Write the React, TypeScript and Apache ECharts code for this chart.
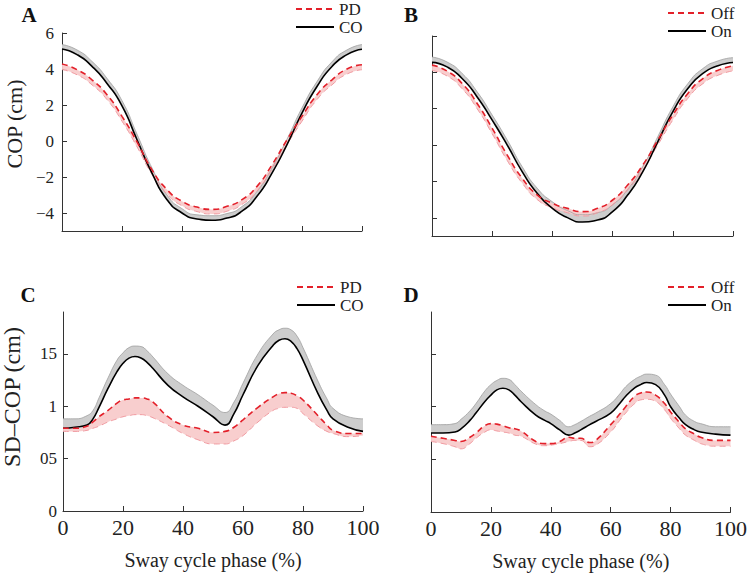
import React, { useEffect, useRef } from "react";
import * as echarts from "echarts";

// ---------- data ----------
const PHASE_AB = [0, 5, 10, 15, 20, 25, 30, 35, 40, 45, 50, 55, 60, 65, 70, 75, 80, 85, 90, 95, 100];

const A_CO_MEAN = [5.11, 4.8, 4.15, 3.2, 1.95, 0.07, -1.78, -3.26, -4.0, -4.33, -4.4, -4.28, -3.9, -3.07, -1.78, -0.2, 1.55, 3.03, 4.14, 4.8, 5.1];
const A_CO_UPPER = [5.36, 5.06, 4.42, 3.48, 2.24, 0.38, -1.5, -3.0, -3.76, -4.1, -4.15, -4.03, -3.64, -2.8, -1.5, 0.1, 1.84, 3.3, 4.4, 5.06, 5.36];
const A_PD_MEAN = [4.28, 3.96, 3.4, 2.57, 1.37, -0.05, -1.6, -2.7, -3.35, -3.67, -3.8, -3.63, -3.26, -2.52, -1.32, 0.07, 1.37, 2.57, 3.4, 4.0, 4.24];
const A_PD_LOWER = [3.97, 3.68, 3.12, 2.3, 1.1, -0.32, -1.85, -2.95, -3.6, -3.92, -4.05, -3.9, -3.52, -2.78, -1.58, -0.2, 1.1, 2.3, 3.12, 3.72, 3.96];

const B_ON_MEAN = [4.55, 4.3, 3.66, 2.65, 1.37, 0.0, -1.47, -2.66, -3.48, -3.99, -4.23, -4.12, -3.66, -2.75, -1.47, 0.18, 1.83, 3.11, 3.94, 4.36, 4.54];
const B_ON_UPPER = [4.84, 4.57, 3.94, 2.93, 1.65, 0.28, -1.2, -2.38, -3.12, -3.6, -3.83, -3.72, -3.28, -2.44, -1.2, 0.46, 2.1, 3.38, 4.21, 4.63, 4.81];
const B_OFF_MEAN = [4.4, 4.07, 3.39, 2.29, 0.92, -0.55, -1.83, -2.75, -3.2, -3.48, -3.66, -3.48, -3.02, -2.2, -1.1, 0.27, 1.65, 2.84, 3.66, 4.12, 4.36];
const B_OFF_LOWER = [4.1, 3.8, 3.1, 2.0, 0.62, -0.85, -2.1, -3.0, -3.45, -3.72, -3.9, -3.72, -3.28, -2.47, -1.38, 0.0, 1.38, 2.57, 3.38, 3.84, 4.08];

const PHASE_C = [0, 4, 8, 10, 12, 15, 18, 20, 22, 24, 26, 28, 30, 35, 40, 45, 50, 54, 57, 60, 65, 70, 72, 74, 76, 78, 80, 85, 88, 90, 95, 100];
const C_CO_MEAN = [0.79, 0.8, 0.82, 0.88, 0.99, 1.17, 1.33, 1.41, 1.46, 1.475, 1.46, 1.42, 1.36, 1.2, 1.09, 1.0, 0.9, 0.82, 0.93, 1.11, 1.39, 1.58, 1.63, 1.645, 1.62, 1.55, 1.44, 1.12, 0.96, 0.88, 0.8, 0.76];
const C_CO_UPPER = [0.88, 0.88, 0.91, 0.96, 1.08, 1.27, 1.44, 1.51, 1.56, 1.575, 1.57, 1.53, 1.47, 1.31, 1.2, 1.11, 1.01, 0.94, 1.04, 1.22, 1.5, 1.69, 1.73, 1.745, 1.73, 1.67, 1.56, 1.24, 1.07, 0.98, 0.9, 0.88];
const C_PD_MEAN = [0.79, 0.79, 0.81, 0.85, 0.9, 0.96, 1.03, 1.06, 1.07, 1.08, 1.08, 1.07, 1.04, 0.9, 0.82, 0.79, 0.75, 0.76, 0.8, 0.87, 0.99, 1.09, 1.12, 1.13, 1.125, 1.1, 1.06, 0.91, 0.82, 0.77, 0.74, 0.74];
const C_PD_LOWER = [0.76, 0.76, 0.77, 0.79, 0.81, 0.85, 0.88, 0.9, 0.91, 0.92, 0.92, 0.91, 0.89, 0.82, 0.74, 0.68, 0.64, 0.64, 0.67, 0.72, 0.85, 0.96, 0.98, 0.99, 0.99, 0.98, 0.93, 0.81, 0.76, 0.74, 0.71, 0.72];

const PHASE_D = [0, 4, 8, 10, 13, 15, 18, 20, 22, 24, 26, 28, 30, 35, 38, 40, 43, 46, 48, 50, 53, 55, 60, 63, 65, 68, 70, 72, 75, 78, 80, 83, 85, 88, 90, 95, 100];
const D_ON_MEAN = [0.75, 0.75, 0.76, 0.79, 0.87, 0.94, 1.05, 1.11, 1.16, 1.175, 1.16, 1.11, 1.05, 0.92, 0.87, 0.84, 0.78, 0.73, 0.75, 0.78, 0.83, 0.86, 0.94, 1.03, 1.1, 1.18, 1.21, 1.23, 1.21, 1.11, 1.0, 0.89, 0.83, 0.78, 0.76, 0.74, 0.73];
const D_ON_UPPER = [0.83, 0.83, 0.84, 0.88, 0.96, 1.03, 1.15, 1.21, 1.25, 1.27, 1.26, 1.21, 1.15, 1.02, 0.96, 0.93, 0.87, 0.81, 0.83, 0.86, 0.91, 0.94, 1.03, 1.12, 1.19, 1.26, 1.29, 1.31, 1.3, 1.21, 1.12, 1.0, 0.92, 0.86, 0.84, 0.81, 0.81];
const D_OFF_MEAN = [0.72, 0.7, 0.68, 0.67, 0.71, 0.75, 0.82, 0.84, 0.835, 0.82, 0.8, 0.79, 0.77, 0.67, 0.65, 0.65, 0.67, 0.71, 0.7, 0.7, 0.66, 0.68, 0.83, 0.93, 1.0, 1.1, 1.13, 1.14, 1.11, 1.03, 0.95, 0.85, 0.79, 0.74, 0.71, 0.68, 0.68];
const D_OFF_LOWER = [0.67, 0.65, 0.62, 0.6, 0.65, 0.7, 0.76, 0.78, 0.77, 0.76, 0.75, 0.73, 0.72, 0.645, 0.63, 0.635, 0.65, 0.67, 0.68, 0.68, 0.62, 0.635, 0.76, 0.87, 0.94, 1.03, 1.065, 1.07, 1.05, 0.97, 0.89, 0.79, 0.73, 0.68, 0.65, 0.625, 0.625];

// phase axis: one category per percent, labelled every 20 %
const PHASE_CATEGORIES = Array.from({ length: 101 }, (_, i) => String(i));
const PHASE_LABEL_STEP = 20;
const COP_TICKS = [-4, -2, 0, 2, 4, 6];
const SD_TICKS = [0, 0.5, 1, 1.5];
const SD_TICK_LABELS = ["0", "05", "1", "15"];

// ---------- style ----------
const FONT = "'Liberation Serif', 'Times New Roman', serif";
const INK = "#222";
const AXIS = "#333";
const RED = "#e3202a";
const GRAY_FILL = "#cdcdcd";
const GRAY_EDGE = "#a0a0a0";
const PINK_FILL = "#f8cbcb";
const PINK_EDGE = "#f09aa0";

const pairs = (x: number[], y: number[]) => x.map((v, i) => [v, y[i]]);

function panelSeries(
  g: number,
  x: number[],
  smooth: number,
  blackName: string,
  blackMean: number[],
  blackUpper: number[],
  redName: string,
  redMean: number[],
  redLower: number[]
) {
  const common = { xAxisIndex: g, yAxisIndex: g, smooth, symbol: "none", silent: true };
  const hidden = { ...common, lineStyle: { opacity: 0, width: 0 } };
  return [
    { ...hidden, type: "line", name: "_gb" + g, stack: "g" + g, stackStrategy: "all", data: pairs(x, blackMean), z: 1 },
    {
      ...hidden, type: "line", name: "_gt" + g, stack: "g" + g, stackStrategy: "all",
      data: pairs(x, blackUpper.map((v, i) => v - blackMean[i])),
      areaStyle: { color: GRAY_FILL, opacity: 1 }, z: 1,
    },
    { ...hidden, type: "line", name: "_rb" + g, stack: "r" + g, stackStrategy: "all", data: pairs(x, redLower), z: 2 },
    {
      ...hidden, type: "line", name: "_rt" + g, stack: "r" + g, stackStrategy: "all",
      data: pairs(x, redMean.map((v, i) => v - redLower[i])),
      areaStyle: { color: PINK_FILL, opacity: 0.95 }, z: 2,
    },
    { ...common, type: "line", name: "_ge" + g, data: pairs(x, blackUpper), lineStyle: { color: GRAY_EDGE, width: 0.8 }, z: 3 },
    { ...common, type: "line", name: "_re" + g, data: pairs(x, redLower), lineStyle: { color: PINK_EDGE, width: 1, type: [6, 4] }, z: 3 },
    { ...common, type: "line", name: blackName, data: pairs(x, blackMean), lineStyle: { color: "#000", width: 1.6 }, itemStyle: { color: "#000" }, z: 4 },
    { ...common, type: "line", name: redName, data: pairs(x, redMean), lineStyle: { color: RED, width: 1.6, type: [6, 4] }, itemStyle: { color: RED }, z: 5 },
  ];
}

function xAxis(g: number, showLabels: boolean) {
  return {
    type: "category", gridIndex: g, data: PHASE_CATEGORIES, boundaryGap: false,
    axisLine: { show: true, onZero: false, lineStyle: { color: AXIS, width: 1 } },
    axisTick: { show: true, inside: true, length: 5, interval: PHASE_LABEL_STEP - 1, lineStyle: { color: AXIS } },
    axisLabel: { show: showLabels, interval: PHASE_LABEL_STEP - 1, fontFamily: FONT, fontSize: 22, color: INK, margin: 5 },
    splitLine: { show: false },
    ...(showLabels ? { name: "Sway cycle phase (%)", nameLocation: "middle", nameGap: 39, nameTextStyle: { fontFamily: FONT, fontSize: 20, color: INK } } : {}),
  };
}

function yAxis(g: number, min: number, max: number, ticks: number[], labels: string[] | null, margin: number) {
  return {
    type: "value", gridIndex: g, min, max,
    axisLine: { show: true, onZero: false, lineStyle: { color: AXIS, width: 1 } },
    axisTick: { show: true, inside: true, length: 5, lineStyle: { color: AXIS }, customValues: ticks },
    axisLabel: {
      show: labels !== null, customValues: ticks, fontFamily: FONT, fontSize: 17, color: INK, margin,
      formatter: (v: number) => {
        const i = ticks.findIndex((t) => Math.abs(t - v) < 1e-9);
        return labels && i >= 0 ? labels[i] : "";
      },
    },
    splitLine: { show: false },
  };
}

function legendItem(left: number, centerY: number, name: string) {
  return {
    orient: "vertical", left, top: centerY - 8.5, padding: 0, data: [name], itemWidth: 38, itemHeight: 12,
    selectedMode: false,
    itemStyle: { opacity: 0 },
    textStyle: { fontFamily: FONT, fontSize: 17, lineHeight: 17, color: INK },
  };
}

function letter(text: string, x: number, y: number) {
  return {
    type: "text", x, y,
    style: { text, font: `bold 21px ${FONT}`, fill: "#111", textAlign: "center", textVerticalAlign: "middle" },
  };
}

function yTitle(text: string, x: number, y: number, size: number) {
  return {
    type: "text", x, y, rotation: Math.PI / 2,
    style: { text, font: `${size}px ${FONT}`, fill: INK, textAlign: "center", textVerticalAlign: "middle" },
  };
}

export default function App() {
  const ref = useRef<HTMLDivElement>(null);
  useEffect(() => {
    if (!ref.current) return;
    const chart = echarts.init(ref.current, undefined, { renderer: "svg" });
    const copLabels = COP_TICKS.map((v) => (v < 0 ? "\u2212" + Math.abs(v) : String(v)));
    chart.setOption({
      animation: false,
      backgroundColor: "#fff",
      textStyle: { fontFamily: FONT },
      grid: [
        { left: 62, top: 33, width: 300, height: 198 },
        { left: 432, top: 36, width: 301, height: 200 },
        { left: 63, top: 312, width: 300, height: 199 },
        { left: 431, top: 312, width: 301, height: 200 },
      ],
      xAxis: [xAxis(0, false), xAxis(1, false), xAxis(2, true), xAxis(3, true)],
      yAxis: [
        yAxis(0, -5, 6, COP_TICKS, copLabels, 8),
        yAxis(1, -5, 6, COP_TICKS, null, 8),
        yAxis(2, 0, 1.9, SD_TICKS, SD_TICK_LABELS, 6),
        yAxis(3, 0, 1.9, SD_TICKS, null, 6),
      ],
      legend: [
        legendItem(295, 9, "PD"),
        legendItem(295, 27, "CO"),
        legendItem(667, 13, "Off"),
        legendItem(667, 31, "On"),
        legendItem(296, 287, "PD"),
        legendItem(296, 305, "CO"),
        legendItem(667, 287, "Off"),
        legendItem(667, 305, "On"),
      ],
      graphic: [
        letter("A", 29, 15),
        letter("B", 411, 15),
        letter("C", 28, 295),
        letter("D", 411, 295),
        yTitle("COP (cm)", 14, 124, 22),
        yTitle("SD\u2013COP (cm)", 12, 397, 24),
      ],
      series: [
        ...panelSeries(0, PHASE_AB, 0.6, "CO", A_CO_MEAN, A_CO_UPPER, "PD", A_PD_MEAN, A_PD_LOWER),
        ...panelSeries(1, PHASE_AB, 0.6, "On", B_ON_MEAN, B_ON_UPPER, "Off", B_OFF_MEAN, B_OFF_LOWER),
        ...panelSeries(2, PHASE_C, 0.5, "CO", C_CO_MEAN, C_CO_UPPER, "PD", C_PD_MEAN, C_PD_LOWER),
        ...panelSeries(3, PHASE_D, 0.5, "On", D_ON_MEAN, D_ON_UPPER, "Off", D_OFF_MEAN, D_OFF_LOWER),
      ],
    });
    return () => chart.dispose();
  }, []);
  return (
    <div
      ref={ref}
      style={{ position: "absolute", left: 0, top: 0, width: 750, height: 575, background: "#fff" }}
    />
  );
}
